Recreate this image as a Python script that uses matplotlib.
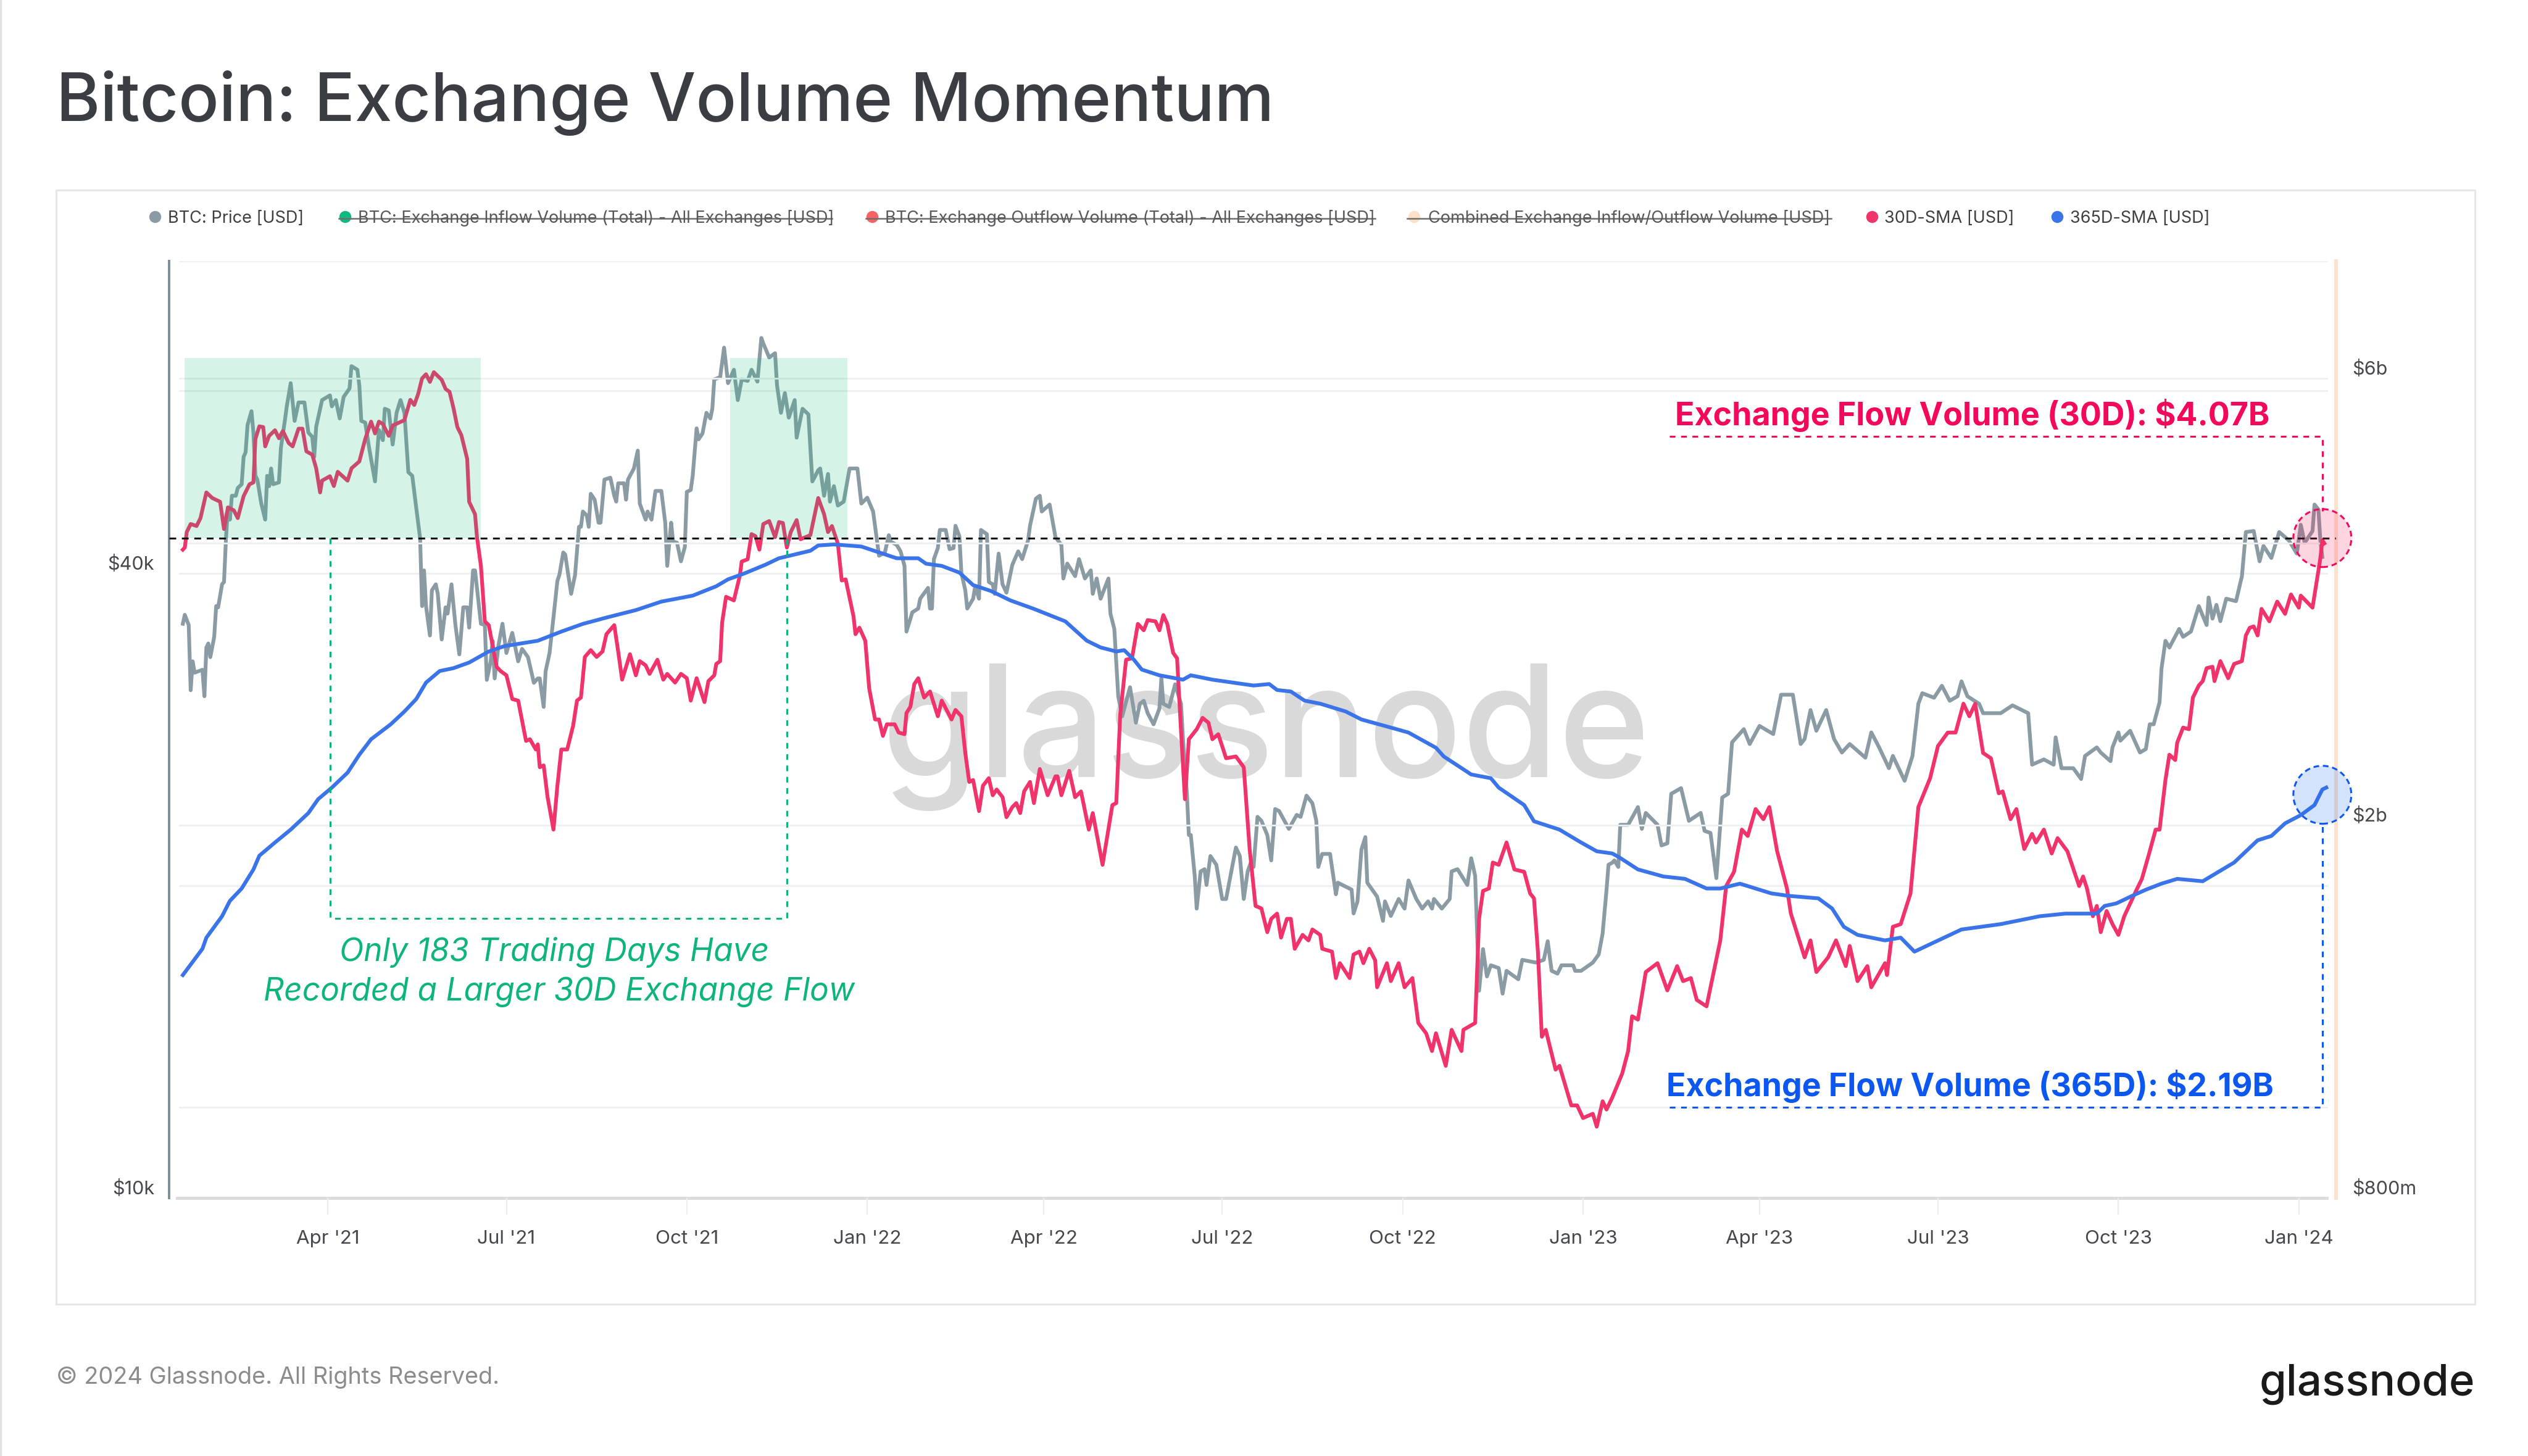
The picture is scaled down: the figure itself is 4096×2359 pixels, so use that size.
import matplotlib
matplotlib.use("Agg")
import matplotlib.pyplot as plt
import matplotlib.dates as mdates
import numpy as np
import pandas as pd
from matplotlib.lines import Line2D
from matplotlib.patches import Rectangle
from matplotlib.transforms import blended_transform_factory

plt.rcParams["font.family"] = ["Inter", "DejaVu Sans"]

W, H = 4096, 2359

# values: day number since 2021-01-01, value
price_days = [16, 17, 19, 20, 21, 22, 26, 27, 28, 29, 30, 32, 33, 34, 36, 37, 38, 39, 40, 41, 43, 44, 46, 47, 48, 49, 51, 52, 53, 54, 56, 58, 59, 60, 61, 62, 65, 66, 68, 69, 71, 73, 75, 78, 80, 82, 83, 84, 87, 91, 92, 94, 96, 98, 101, 102, 105, 106, 107, 109, 111, 114, 116, 118, 119, 121, 123, 125, 127, 129, 131, 133, 135, 137, 138, 139, 140, 142, 143, 145, 146, 148, 150, 151, 153, 155, 157, 159, 161, 162, 164, 165, 168, 170, 171, 173, 174, 175, 177, 179, 181, 184, 187, 189, 192, 195,
              197, 198, 200, 201, 203, 205, 207, 208, 210, 211, 214, 216, 218, 219, 220, 222, 223, 224, 226, 228, 229, 231, 234, 236, 237, 238, 241, 242, 243, 246, 248, 249, 252, 253, 255, 257, 260, 262, 263, 265, 266, 268, 270, 272, 273, 275, 276, 278, 279, 281, 283, 285, 286, 287, 290, 292, 294, 297, 299, 301, 304, 306, 309, 311, 312, 315, 318, 319, 321, 323, 325, 328, 329, 332, 335, 337, 340, 341, 343, 345, 346, 348, 350, 353, 356, 360, 362, 365, 368, 371, 374, 376, 377, 380,
              382, 384, 385, 387, 388, 391, 392, 396, 397, 398, 399, 401, 402, 405, 407, 409, 410, 412, 413, 415, 416, 419, 420, 422, 423, 426, 427, 429, 430, 432, 434, 436, 439, 442, 444, 447, 448, 451, 453, 454, 458, 461, 464, 465, 467, 471, 473, 476, 479, 480, 482, 484, 488, 489, 491, 493, 495, 499, 502, 504, 506, 508, 511, 514, 515, 516, 519, 522, 525, 526, 528, 529, 530, 532, 533, 535, 537, 538, 540, 543, 546, 548, 550, 553, 555, 557, 559, 561,
              562, 564, 566, 569, 571, 573, 575, 580, 584, 586, 589, 592, 594, 595, 597, 601, 604, 605, 612, 613, 615, 617, 619, 620, 625, 628, 629, 632, 636, 639, 641, 645, 648, 651, 653, 654, 658, 662, 663, 666, 671, 673, 675, 677, 679, 681, 683, 687, 689, 691, 697, 699, 706, 710, 712, 714, 717, 719, 725, 726, 729, 735, 738, 740, 742, 743, 745,
              746, 748, 749, 753, 758, 760, 762, 768, 770, 773, 775, 780, 784, 790, 792, 795, 798, 801, 804, 806, 812, 815, 820, 827, 831, 837, 841, 843, 846, 849, 854, 858, 862, 866, 874, 877, 881, 886, 888, 894, 898, 901, 903, 909, 913, 917, 921, 923, 926, 932, 934, 943, 949, 957, 959, 965, 970, 971, 974, 980, 984, 986, 992,
              994, 999, 1000, 1003, 1004, 1009, 1014, 1017, 1019, 1021, 1024, 1025, 1027, 1029, 1034, 1036, 1040, 1044, 1048, 1049, 1051, 1053, 1055, 1058, 1063, 1066, 1068, 1072, 1075, 1077, 1081, 1085, 1090, 1094, 1096, 1098, 1102, 1103, 1105, 1106, 1107]
price_k = [35.0, 35.7, 34.9, 30.2, 32.2, 31.4, 31.6, 29.8, 33.2, 33.5, 32.5, 34.0, 36.4, 36.3, 38.2, 38.4, 42.3, 45.3, 44.1, 46.5, 46.5, 47.3, 47.7, 50.7, 51.2, 54.4, 56.1, 53.5, 48.6, 48.2, 45.7, 44.1, 48.6, 47.5, 49.4, 47.7, 47.9, 51.7, 54.9, 56.7, 59.7, 54.9, 57.2, 57.2, 53.5, 53.0, 50.7, 54.2, 57.5, 58.1, 56.7, 57.5, 55.2, 57.9, 59.0, 62.0, 61.5, 59.4, 54.9, 54.7, 51.7, 48.0, 53.8, 52.6, 56.4, 56.2, 52.1, 55.9, 57.5, 55.9, 49.0, 48.6, 45.3, 42.3, 36.4, 39.4, 36.4, 34.1, 37.7, 38.2, 37.4, 33.8, 36.3, 35.8, 38.2, 34.9, 32.7, 36.3, 36.3, 34.7, 39.4, 39.4, 35.0, 34.9, 30.9, 32.2, 33.7, 31.0, 33.4, 35.0, 32.8, 34.3, 32.2, 33.1, 32.5, 30.7,
           31.0, 31.0, 29.1, 31.5, 32.8, 35.5, 38.5, 39.0, 41.0, 40.8, 37.4, 39.0, 43.4, 43.4, 44.9, 44.5, 43.4, 46.7, 46.1, 43.8, 43.8, 48.2, 48.4, 46.5, 45.9, 47.8, 47.8, 46.1, 48.2, 49.4, 51.4, 45.7, 44.1, 44.9, 44.1, 47.0, 47.0, 43.8, 39.8, 43.8, 42.0, 41.9, 40.2, 41.5, 46.9, 47.1, 48.6, 54.0, 52.7, 53.4, 55.9, 55.2, 56.4, 60.2, 60.5, 64.6, 59.7, 61.5, 57.5, 60.2, 60.0, 61.5, 59.9, 66.0, 65.2, 63.2, 63.8, 59.4, 55.9, 58.4, 55.3, 57.5, 52.9, 56.4, 55.7, 48.0, 49.2, 49.4, 46.5, 48.8, 45.9, 47.5, 45.5, 45.9, 49.4, 49.4, 45.7, 46.3, 44.9, 40.7, 41.0, 42.6, 42.0, 41.7,
           41.1, 39.8, 34.4, 35.4, 35.9, 36.2, 37.0, 37.9, 36.2, 36.2, 40.4, 41.4, 43.1, 43.1, 41.3, 41.4, 43.5, 42.5, 39.2, 37.7, 36.2, 37.0, 38.0, 37.0, 43.1, 42.7, 38.4, 38.2, 37.4, 40.9, 38.2, 37.5, 39.9, 41.1, 40.4, 42.1, 43.5, 46.2, 46.5, 44.9, 45.6, 42.4, 41.7, 38.7, 40.0, 38.9, 40.4, 38.7, 39.4, 37.4, 38.7, 37.0, 38.7, 35.8, 34.6, 29.8, 28.5, 30.4, 28.1, 29.3, 29.5, 28.7, 28.0, 29.0, 31.0, 29.3, 29.1, 30.6, 29.3, 27.1, 24.0, 21.9, 21.9, 20.0, 18.6, 20.2, 20.3, 19.6, 20.9, 20.5, 19.0, 19.0, 19.9, 21.3, 20.9, 19.0, 20.2, 20.7,
           20.4, 22.8, 22.6, 21.9, 20.7, 23.2, 23.1, 22.2, 22.9, 22.8, 23.9, 23.5, 22.6, 20.4, 21.0, 21.0, 19.2, 19.7, 19.4, 18.4, 18.9, 21.2, 21.8, 19.7, 19.1, 18.1, 18.9, 18.3, 19.0, 18.6, 19.8, 19.0, 18.6, 18.9, 18.6, 19.0, 18.6, 19.0, 20.2, 20.3, 19.6, 20.8, 20.0, 15.5, 17.0, 16.0, 16.4, 16.3, 15.4, 16.2, 15.9, 16.6, 16.5, 16.6, 17.3, 16.2, 16.1, 16.4, 16.4, 16.2, 16.2, 16.5, 16.8, 17.6, 19.4, 20.5, 20.6,
           20.7, 20.4, 22.4, 22.4, 23.3, 22.2, 23.0, 22.4, 21.4, 21.5, 24.0, 24.3, 22.6, 23.0, 22.1, 22.0, 19.9, 23.8, 24.0, 26.9, 27.7, 26.8, 27.9, 27.4, 29.9, 29.9, 26.8, 27.1, 28.9, 27.6, 28.9, 27.1, 26.3, 26.8, 26.0, 27.5, 26.6, 25.4, 26.1, 24.7, 26.1, 29.3, 30.0, 29.7, 30.5, 29.5, 29.8, 30.8, 29.8, 29.3, 28.7, 28.7, 29.2, 28.7, 25.6, 25.9, 25.6, 27.2, 25.4, 25.4, 24.8, 26.1, 26.6,
           26.3, 25.8, 26.6, 27.5, 27.0, 27.6, 26.3, 26.5, 28.0, 28.0, 29.4, 31.7, 33.7, 33.2, 34.6, 34.0, 34.4, 36.4, 34.9, 37.1, 35.4, 36.5, 35.2, 37.0, 36.8, 38.9, 42.9, 43.0, 40.2, 41.6, 40.5, 42.9, 42.1, 40.9, 43.6, 41.9, 43.0, 45.6, 45.1, 42.1, 40.6]

vol30_days = [16, 17, 18, 20, 23, 25, 28, 31, 35, 37, 39, 42, 44, 47, 50, 52, 53, 55, 57, 58, 60, 63, 65, 67, 70, 72, 75, 77, 79, 82, 84, 86, 87, 91, 93, 95, 100, 102, 106, 109, 112, 114, 116, 118, 121, 123, 129, 132, 134, 136, 138, 140, 142, 144, 148, 150, 152, 154, 156, 158, 161, 162, 165, 166, 168, 170, 172, 176, 178, 181, 184, 187, 191, 193, 196,
              197, 198, 200, 202, 205, 207, 209, 212, 215, 217, 219, 221, 224, 227, 230, 232, 236, 238, 240, 244, 247, 249, 252, 254, 258, 261, 263, 267, 270, 273, 275, 278, 282, 284, 287, 288, 290, 291, 293, 297, 300, 301, 304, 306, 308, 310, 312, 315, 318, 320, 322, 324, 326, 329, 331, 336, 340, 343, 345, 347, 350, 352, 354, 358, 359, 361, 364, 366, 369, 371, 373, 375, 379,
              381, 384, 385, 387, 389, 391, 394, 397, 401, 403, 408, 410, 413, 415, 417, 419, 422, 424, 427, 429, 431, 434, 436, 439, 441, 443, 445, 448, 450, 453, 457, 461, 462, 464, 468, 471, 474, 478, 480, 485, 490, 492, 494, 497, 500, 503, 506, 508, 512, 514, 516, 518, 521, 523, 525, 527, 529, 533, 536, 539, 541, 544, 548, 553, 557, 560,
              563, 566, 569, 571, 574, 576, 579, 581, 583, 587, 590, 592, 596, 597, 602, 604, 606, 611, 613, 616, 618, 621, 624, 625, 630, 632, 636, 639, 643, 646, 650, 653, 655, 660, 663, 668, 669, 675, 677, 679, 682, 684, 687, 691, 695, 700, 703, 705, 707, 709, 711, 716, 718, 724, 727, 730, 735, 737, 740, 742, 745,
              750, 753, 755, 758, 762, 768, 773, 778, 781, 785, 788, 793, 800, 803, 807, 811, 814, 818, 822, 825, 829, 834, 836, 843, 846, 849, 855, 859, 864, 866, 870, 875, 877, 884, 885, 888, 892, 897, 901, 907, 911, 916, 920, 924, 927, 930, 934, 938, 942, 944, 948, 951, 955, 959, 961, 965, 969, 972, 977, 983, 985, 987, 990, 992,
              994, 997, 1000, 1003, 1006, 1012, 1015, 1019, 1022, 1024, 1027, 1029, 1032, 1033, 1036, 1039, 1041, 1044, 1046, 1048, 1051, 1052, 1055, 1059, 1062, 1066, 1068, 1070, 1072, 1074, 1076, 1080, 1084, 1088, 1091, 1095, 1096, 1102, 1104, 1106, 1107, 1108]
vol30_b = [3.84, 3.86, 4.01, 4.09, 4.07, 4.15, 4.42, 4.36, 4.32, 4.04, 4.26, 4.23, 4.15, 4.38, 4.51, 4.53, 5.04, 5.20, 5.19, 4.95, 5.08, 5.15, 5.05, 5.14, 4.99, 4.95, 5.17, 5.17, 4.89, 4.85, 4.69, 4.42, 4.55, 4.60, 4.49, 4.65, 4.55, 4.69, 4.77, 5.04, 5.26, 5.11, 5.26, 5.23, 5.08, 5.21, 5.28, 5.55, 5.48, 5.63, 5.85, 5.91, 5.80, 5.94, 5.83, 5.70, 5.66, 5.44, 5.19, 5.09, 4.80, 4.32, 4.19, 3.96, 3.69, 3.22, 3.19, 2.88, 2.85, 2.82, 2.66, 2.65, 2.40, 2.41, 2.35,
           2.38, 2.25, 2.26, 2.09, 1.93, 2.15, 2.35, 2.35, 2.49, 2.65, 2.67, 2.95, 3.00, 2.95, 2.99, 3.12, 3.19, 2.99, 2.79, 2.97, 2.82, 2.92, 2.89, 2.83, 2.93, 2.79, 2.83, 2.77, 2.83, 2.80, 2.65, 2.80, 2.64, 2.78, 2.82, 2.90, 2.92, 3.21, 3.42, 3.39, 3.60, 3.73, 3.75, 3.99, 3.97, 3.84, 4.09, 4.12, 3.96, 4.11, 4.10, 3.86, 4.01, 4.13, 3.94, 3.98, 4.36, 4.19, 4.01, 4.07, 3.90, 3.56, 3.57, 3.26, 3.12, 3.17, 3.07, 2.73, 2.53, 2.53, 2.43, 2.50, 2.50,
           2.45, 2.44, 2.57, 2.61, 2.76, 2.80, 2.67, 2.71, 2.55, 2.65, 2.53, 2.59, 2.55, 2.33, 2.17, 2.18, 2.02, 2.15, 2.19, 2.10, 2.13, 2.09, 1.99, 2.04, 2.06, 2.01, 2.12, 2.17, 2.06, 2.24, 2.10, 2.20, 2.20, 2.10, 2.23, 2.09, 2.12, 1.93, 2.01, 1.77, 2.05, 2.06, 2.56, 2.93, 2.94, 3.20, 3.15, 3.23, 3.22, 3.15, 3.27, 3.20, 2.98, 2.94, 2.46, 2.08, 2.41, 2.47, 2.54, 2.51, 2.41, 2.44, 2.30, 2.31, 2.25, 1.84,
           1.60, 1.59, 1.50, 1.55, 1.57, 1.48, 1.55, 1.55, 1.44, 1.49, 1.47, 1.51, 1.49, 1.44, 1.43, 1.34, 1.39, 1.34, 1.42, 1.43, 1.39, 1.44, 1.40, 1.31, 1.39, 1.33, 1.39, 1.31, 1.34, 1.20, 1.17, 1.12, 1.17, 1.08, 1.18, 1.12, 1.18, 1.20, 1.55, 1.66, 1.67, 1.78, 1.77, 1.87, 1.75, 1.74, 1.65, 1.63, 1.43, 1.16, 1.18, 1.07, 1.08, 0.98, 0.98, 0.95, 0.96, 0.93, 0.99, 0.97, 1.00,
           1.06, 1.12, 1.22, 1.21, 1.36, 1.39, 1.30, 1.38, 1.33, 1.34, 1.27, 1.25, 1.47, 1.68, 1.74, 1.93, 1.90, 2.03, 1.98, 2.04, 1.83, 1.67, 1.57, 1.41, 1.47, 1.36, 1.41, 1.47, 1.38, 1.45, 1.33, 1.38, 1.31, 1.39, 1.35, 1.52, 1.53, 1.65, 2.04, 2.19, 2.37, 2.45, 2.45, 2.63, 2.55, 2.63, 2.33, 2.30, 2.11, 2.12, 1.98, 2.03, 1.84, 1.91, 1.87, 1.93, 1.82, 1.89, 1.83, 1.68, 1.72, 1.67, 1.56, 1.60,
           1.50, 1.58, 1.53, 1.49, 1.56, 1.66, 1.71, 1.83, 1.93, 1.93, 2.18, 2.32, 2.29, 2.39, 2.48, 2.47, 2.67, 2.75, 2.78, 2.87, 2.88, 2.78, 2.92, 2.80, 2.90, 2.92, 3.11, 3.17, 3.18, 3.11, 3.32, 3.22, 3.38, 3.28, 3.44, 3.33, 3.43, 3.33, 3.54, 3.76, 3.93, 3.90]

vol365_days = [16, 26, 28, 36, 40, 46, 52, 55, 63, 71, 80, 85, 92, 100, 106, 112, 122, 129, 135, 140, 147, 154, 162, 172, 180,
               197, 209, 220, 232, 237, 247, 260, 276, 288, 294, 302, 313, 320, 336, 340, 348, 362, 380,
               391, 395, 403, 412, 419, 428, 438, 450, 466, 477, 484, 492, 496, 501, 505, 514, 526, 530, 541, 562,
               570, 574, 581, 588, 596, 609, 617, 632, 641, 655, 659, 673, 683, 687, 700, 705, 718, 729, 737, 745,
               749, 758, 771, 782, 793, 800, 810, 826, 835, 850, 857, 863, 870, 884, 892, 899, 923, 943, 963, 976, 992,
               996, 1002, 1010, 1017, 1025, 1033, 1046, 1062, 1074, 1081, 1088, 1096, 1103, 1107, 1109]
vol365_b = [1.35, 1.44, 1.48, 1.56, 1.62, 1.67, 1.75, 1.81, 1.87, 1.93, 2.01, 2.08, 2.14, 2.22, 2.32, 2.41, 2.50, 2.58, 2.66, 2.77, 2.85, 2.87, 2.91, 2.99, 3.03,
            3.07, 3.14, 3.20, 3.25, 3.27, 3.31, 3.38, 3.43, 3.51, 3.57, 3.62, 3.70, 3.76, 3.83, 3.88, 3.89, 3.87, 3.76,
            3.76, 3.71, 3.69, 3.63, 3.52, 3.47, 3.39, 3.32, 3.22, 3.07, 3.02, 2.99, 3.00, 2.93, 2.86, 2.82, 2.79, 2.82, 2.79, 2.75,
            2.76, 2.72, 2.71, 2.65, 2.63, 2.58, 2.53, 2.48, 2.45, 2.36, 2.31, 2.21, 2.19, 2.14, 2.05, 1.97, 1.93, 1.87, 1.83, 1.82,
            1.80, 1.75, 1.72, 1.71, 1.67, 1.67, 1.69, 1.65, 1.64, 1.63, 1.59, 1.52, 1.49, 1.47, 1.48, 1.43, 1.51, 1.53, 1.56, 1.57, 1.57,
            1.60, 1.61, 1.64, 1.665, 1.69, 1.71, 1.70, 1.78, 1.88, 1.90, 1.96, 2.00, 2.05, 2.13, 2.14]

# tick labels on the reference sit above their gridlines, so the read values need a small lift
PRICE_LIFT = 1.022
VOL_LIFT = 1.025

left_ticks = [10e3, 40e3]
left_tick_labels = ["$10k", "$40k"]
right_ticks = [800e6, 2e9, 6e9]
right_tick_labels = ["$800m", "$2b", "$6b"]
left_grid = [20e3, 40e3, 60e3]
right_grid = [1e9, 2e9, 4e9, 6e9, 8e9]

legend_items = [
    ("BTC: Price [USD]", "#8a9ba3", False, 96, 104),
    ("BTC: Exchange Inflow Volume (Total) - All Exchanges [USD]", "#10b981", True, 214, 222),
    ("BTC: Exchange Outflow Volume (Total) - All Exchanges [USD]", "#f96262", True, 541, 549),
    ("Combined Exchange Inflow/Outflow Volume [USD]", "#fde0c6", True, 877, 886),
    ("30D-SMA [USD]", "#f0336a", False, 1161, 1169),
    ("365D-SMA [USD]", "#3b74e8", False, 1276, 1284),
]
legend_ends = [188, 516, 853, 1136, 1250, 1372]

START = pd.Timestamp("2021-01-01")


def to_dates(days):
    return START + pd.to_timedelta(days, unit="D")


def fx(px):
    return px / W


def fy(py):
    return 1 - py / H


fig = plt.figure(figsize=(W / 200, H / 200), dpi=200, facecolor="white")

# page furniture
fig.add_artist(Rectangle((fx(91), fy(2113)), fx(4010) - fx(91), fy(308) - fy(2113),
                         transform=fig.transFigure, fill=False, ec="#e6e6e6", lw=1.1))
fig.add_artist(Line2D([fx(1), fx(1)], [0, 1], color="#e2e2e2", lw=1.2))
fig.text(fx(91), fy(167), "Bitcoin: Exchange Volume Momentum", fontsize=39.1,
         color="#3a3d42", fontweight="medium", va="center", ha="left")
fig.text(fx(91), fy(2232), "© 2024 Glassnode. All Rights Reserved.", fontsize=13.65,
         color="#8c8c8c", va="center", ha="left")
fig.text(fx(4010), fy(2243), "glassnode", fontsize=25.5, color="#1a1a1a", fontweight="medium",
         va="center", ha="right")

for (label, color, struck, dot_x, text_x), end_x in zip(legend_items, legend_ends):
    y = fy(135.5 * 2.612)
    fig.text(fx(text_x * 2.612), y, label, fontsize=9.75, color="#55585c" if struck else "#3c3f44",
             va="center", ha="left")
    fig.add_artist(Line2D([fx(dot_x * 2.612)], [fy(134.5 * 2.612)], marker="o", ms=7, color=color, mew=0))
    if struck:
        fig.add_artist(Line2D([fx((dot_x - 4) * 2.612), fx(end_x * 2.612)], [y, y], color="#6e6e6e", lw=0.9))

ax = fig.add_axes([fx(274), fy(1941), fx(3785) - fx(274), fy(423) - fy(1941)])
ax2 = ax.twinx()
ax.set_xlim(pd.Timestamp("2021-01-10"), pd.Timestamp("2024-01-20"))

ax.set_yscale("log")
ax.set_ylim(10e3, 80e3)
ax2.set_yscale("log")
ax2.set_ylim(800e6, 8e9)

# watermark under the lines
ax.text(fx(2051), fy(1194), "glassnode", transform=fig.transFigure, fontsize=91, color="#d9d9d9",
        fontweight="medium", ha="center", va="center", zorder=0)

trans = blended_transform_factory(ax.transAxes, ax.transData)
for value in left_grid:
    ax.plot([0.0048, 0.9957], [value, value], transform=trans, color="#efefef", lw=1.0, zorder=1)
trans2 = blended_transform_factory(ax2.transAxes, ax2.transData)
for value in right_grid:
    ax2.plot([0.0048, 0.9957], [value, value], transform=trans2, color="#efefef", lw=1.0, zorder=0)
ax.plot([0.0037, 0.9957], [10e3, 10e3], transform=trans, color="#dcdcdc", lw=1.8, clip_on=False, zorder=1)

ax.plot(to_dates(price_days), np.array(price_k) * 1e3 * PRICE_LIFT, color="#8a9ba3", lw=2.2, zorder=2)
ax2.plot(to_dates(vol30_days), np.array(vol30_b) * 1e9 * VOL_LIFT, color="#f0336a", lw=2.2, zorder=2)
ax2.plot(to_dates(vol365_days), np.array(vol365_b) * 1e9 * VOL_LIFT, color="#3b74e8", lw=2.2, zorder=3)

# green highlight boxes sit over the lines
level_30d = 4.05e9
for x0, x1 in [("2021-01-18", "2021-06-18"), ("2021-10-23", "2021-12-22")]:
    ax2.fill_between(pd.to_datetime([x0, x1]), level_30d, 6.3e9, color="#11ba78", alpha=0.17, lw=0, zorder=4)

green_dates = pd.to_datetime(["2021-04-02", "2021-04-02", "2021-11-21", "2021-11-21"])
ax2.plot(green_dates, [level_30d, 1.59e9, 1.59e9, level_30d], color="#0db57a", lw=1.1,
         ls=(0, (3, 3)), zorder=5)
ax2.axhline(level_30d, color="#111111", lw=1.1, ls=(0, (3.6, 3)), zorder=6)

anno_date = pd.Timestamp("2024-01-13")
anno_start = pd.Timestamp("2023-02-14")
ax2.plot([anno_start, anno_date, anno_date], [5.2e9, 5.2e9, 4.33e9], color="#f4085c", lw=1.1,
         ls=(0, (3, 3)), zorder=5)
ax2.plot([anno_start, anno_date, anno_date], [1.0e9, 1.0e9, 2.0e9], color="#0b57f0", lw=1.1,
         ls=(0, (3, 3)), zorder=5)
ax2.scatter([anno_date], [level_30d], s=1143, facecolor=(0.96, 0.1, 0.36, 0.18), edgecolor="#f4085c",
            lw=1.1, ls=(0, (3, 2)), clip_on=False, zorder=6)
ax2.scatter([anno_date], [2.155e9], s=1143, facecolor=(0.05, 0.4, 0.95, 0.18), edgecolor="#0b57f0",
            lw=1.1, ls=(0, (3, 2)), clip_on=False, zorder=6)

# annotations
fig.text(fx(898), fy(1543), "Only 183 Trading Days Have", fontsize=18.5, style="italic", color="#0db57a",
         ha="center", va="center")
fig.text(fx(906), fy(1607), "Recorded a Larger 30D Exchange Flow", fontsize=18.5, style="italic", color="#0db57a",
         ha="center", va="center")
fig.text(fx(3196), fy(673), "Exchange Flow Volume (30D): $4.07B", fontsize=18.7, fontweight="bold",
         color="#f4085c", ha="center", va="center")
fig.text(fx(3192), fy(1760), "Exchange Flow Volume (365D): $2.19B", fontsize=18.7, fontweight="bold",
         color="#0b57f0", ha="center", va="center")

# axes
for side in ["top", "bottom"]:
    ax.spines[side].set_visible(False)
    ax2.spines[side].set_visible(False)
ax.spines["right"].set_visible(False)
ax2.spines["left"].set_color("#7e8e98")
ax2.spines["left"].set_linewidth(1.4)
ax2.spines["right"].set_color("#fde3cd")
ax2.spines["right"].set_linewidth(2.2)

ax.set_yticks(left_ticks)
ax.set_yticklabels(left_tick_labels, fontsize=11, color="#45484c", va="bottom")
ax.minorticks_off()
ax2.set_yticks(right_ticks)
ax2.set_yticklabels(right_tick_labels, fontsize=11, color="#45484c", va="bottom")
ax2.minorticks_off()
ax.tick_params(axis="y", length=0, pad=8.6)
ax2.tick_params(axis="y", length=0, pad=9.4)

ax.xaxis.set_major_locator(mdates.MonthLocator(bymonth=[1, 4, 7, 10]))
ax.xaxis.set_major_formatter(mdates.DateFormatter("%b '%y"))
ax.tick_params(axis="x", length=9.7, width=0.8, color="#eeeeee", labelcolor="#45484c", labelsize=11.3, pad=9)

fig.savefig("out.png", dpi=200)
plt.close(fig)
